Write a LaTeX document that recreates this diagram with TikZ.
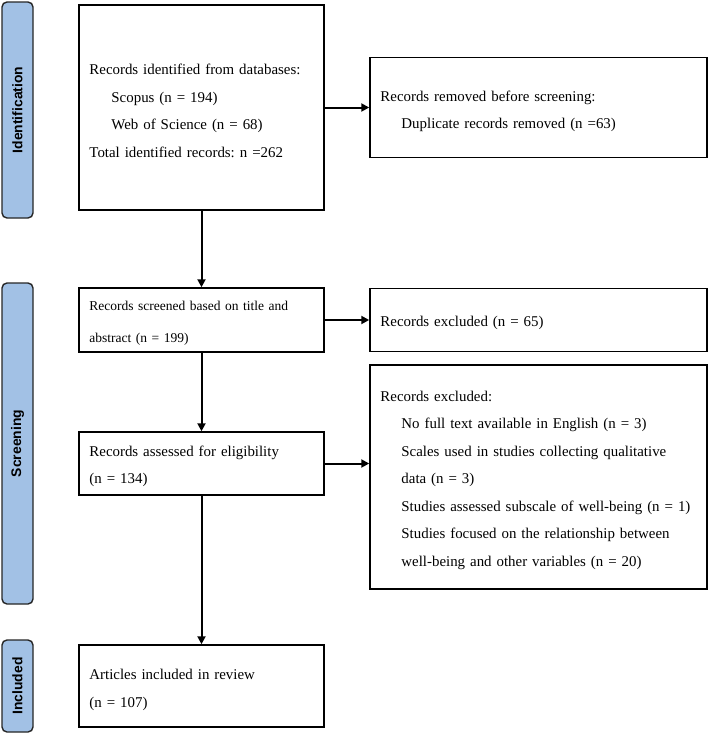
\documentclass[tikz,border=0pt]{standalone}
\usepackage{fontspec}
\setmainfont{Liberation Serif}
\newfontfamily\barfont{Liberation Sans}
\usetikzlibrary{arrows.meta}
\definecolor{barblue}{RGB}{162,193,229}
\frenchspacing
\begin{document}
\begin{tikzpicture}[x=1pt,y=-1pt,
  phase/.style={draw=black!85,line width=1.4pt,fill=barblue,rounded corners=5pt,
    minimum width=31pt,inner sep=0pt},
  phasetext/.style={rotate=90,font=\barfont\bfseries\fontsize{13.9}{16}\selectfont},
  box/.style={draw,line width=1.5pt,inner sep=0pt},
  boxtext/.style={inner sep=0pt,anchor=west,align=left,
    font=\fontsize{14.9}{27.5}\selectfont\frenchspacing},
  arr/.style={line width=2pt,-{Triangle[length=8pt,width=8pt]}}]
\useasboundingbox (0,0) rectangle (708,734);
% phase bars
\node[phase,minimum height=216pt] (pid) at (17.5,110) {};
\node[phasetext] (tid) at (pid.center) {Identification};
\node[phase,minimum height=321pt] (psc) at (17.5,443.5) {};
\node[phasetext] (tsc) at (psc.center) {Screening};
\node[phase,minimum height=92pt] (pin) at (17.5,686) {};
\node[phasetext] (tin) at (pin.center) {Included};
% boxes
\node[box,minimum width=245pt,minimum height=205pt] (b1) at (201.5,107.5) {};
\node[boxtext,text width=223pt] (b1t) at ([xshift=11pt,yshift=-3.5pt]b1.west)
  {Records identified from databases:\\
   \hspace*{22pt}Scopus (n = 194)\\
   \hspace*{22pt}Web of Science (n = 68)\\
   Total identified records: n =262};
\node[box,minimum width=337pt,minimum height=100pt] (b2) at (538.5,107.5) {};
\node[boxtext,text width=315pt] (b2t) at ([xshift=11pt,yshift=-4pt]b2.west)
  {Records removed before screening:\\
   \hspace*{21pt}Duplicate records removed (n =63)};
\node[box,minimum width=245pt,minimum height=64pt] (b3) at (201.5,320) {};
\node[boxtext,text width=223pt,font=\fontsize{13.5}{32}\selectfont\frenchspacing]
  (b3t) at ([xshift=11pt,yshift=-3pt]b3.west)
  {Records screened based on title and\\
   abstract (n = 199)};
\node[box,minimum width=337pt,minimum height=63pt] (b4) at (538.5,320) {};
\node[boxtext,text width=315pt] (b4t) at ([xshift=11pt,yshift=-3pt]b4.west)
  {Records excluded (n = 65)};
\node[box,minimum width=245pt,minimum height=63pt] (b5) at (201.5,463.5) {};
\node[boxtext,text width=223pt] (b5t) at ([xshift=11pt,yshift=-3pt]b5.west)
  {Records assessed for eligibility\\
   (n = 134)};
\node[box,minimum width=337pt,minimum height=224pt] (b6) at (538.5,477) {};
\node[boxtext,text width=315pt] (b6t) at ([xshift=11pt,yshift=-3pt]b6.west)
  {Records excluded:\\
   \hspace*{21pt}No full text available in English (n = 3)\\
   \hspace*{21pt}Scales used in studies collecting qualitative\\
   \hspace*{21pt}data (n = 3)\\
   \hspace*{21pt}Studies assessed subscale of well-being (n = 1)\\
   \hspace*{21pt}Studies focused on the relationship between\\
   \hspace*{21pt}well-being and other variables (n = 20)};
\node[box,minimum width=245pt,minimum height=82pt] (b7) at (201.5,686) {};
\node[boxtext,text width=223pt] (b7t) at ([xshift=11pt,yshift=-4pt]b7.west)
  {Articles included in review\\
   (n = 107)};
% connectors
\draw[arr] (b1.east) -- (b1.east -| b2.west);
\draw[arr] (b1.south) -- (b3.north);
\draw[arr] (b3.east) -- (b3.east -| b4.west);
\draw[arr] (b3.south) -- (b5.north);
\draw[arr] (b5.east) -- (b5.east -| b6.west);
\draw[arr] (b5.south) -- (b7.north);
\end{tikzpicture}
\end{document}
